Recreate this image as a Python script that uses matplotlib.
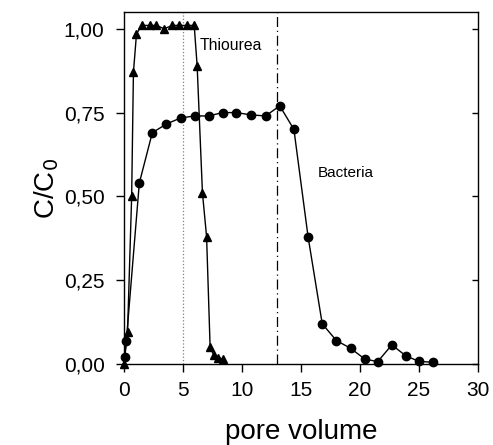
import matplotlib
matplotlib.use('Agg')
import matplotlib.pyplot as plt
from matplotlib.ticker import FuncFormatter

plt.rcParams['font.family'] = ['Liberation Sans', 'DejaVu Sans']

# thiourea breakthrough (triangles)
thiourea_pv = [0.0, 0.3, 0.65, 0.8, 1.06, 1.5, 2.2, 2.75, 3.4, 4.1, 4.7, 5.3, 5.95,
               6.2, 6.65, 7.0, 7.3, 7.6, 8.0, 8.35]
thiourea_c = [0.0, 0.095, 0.50, 0.87, 0.985, 1.01, 1.01, 1.01, 1.00, 1.01, 1.01, 1.01, 1.01,
              0.89, 0.51, 0.38, 0.05, 0.027, 0.018, 0.015]

# bacteria breakthrough (circles)
bacteria_pv = [0.05, 0.2, 1.3, 2.4, 3.6, 4.8, 6.0, 7.2, 8.35, 9.5, 10.8, 12.0, 13.2,
               14.4, 15.6, 16.8, 18.0, 19.2, 20.4, 21.5, 22.7, 23.9, 25.0, 26.2]
bacteria_c = [0.02, 0.07, 0.54, 0.69, 0.716, 0.734, 0.74, 0.74, 0.75, 0.75, 0.743, 0.74, 0.77,
              0.70, 0.38, 0.12, 0.07, 0.047, 0.015, 0.007, 0.057, 0.024, 0.008, 0.005]

thiourea_end = 5.0
bacteria_end = 13.0

fig = plt.figure(figsize=(4.93, 4.45), dpi=100)
ax = fig.add_axes([0.2515, 0.182, 0.718, 0.791])

ax.plot(thiourea_pv, thiourea_c, color='black', linewidth=1,
        marker='^', markersize=5.5, clip_on=False, zorder=3)
ax.plot(bacteria_pv, bacteria_c, color='black', linewidth=1,
        marker='o', markersize=6, clip_on=False, zorder=3)

ax.axvline(thiourea_end, color='grey', linestyle=':', linewidth=0.9)
ax.axvline(bacteria_end, color='black', linestyle=(0, (8, 3, 1, 3)), linewidth=0.9)

ax.text(6.4, 0.95, 'Thiourea', fontsize=11.3, ha='left', va='center')
ax.text(16.4, 0.57, 'Bacteria', fontsize=11, ha='left', va='center')

ax.set_xlim(0, 30)
ax.set_ylim(0, 1.05)
ax.set_xticks([0, 5, 10, 15, 20, 25, 30])
ax.set_yticks([0, 0.25, 0.5, 0.75, 1.0])
ax.yaxis.set_major_formatter(FuncFormatter(lambda v, pos: f'{v:.2f}'.replace('.', ',')))

ax.tick_params(axis='both', which='major', labelsize=15, direction='out', length=6, width=1)
ax.tick_params(axis='x', pad=6)
ax.tick_params(axis='y', pad=8)
ax.tick_params(axis='y', right=True, which='major')
for s in ax.spines.values():
    s.set_linewidth(1)
for t in ax.yaxis.get_major_ticks():
    t.tick2line.set_marker(matplotlib.lines.TICKLEFT)
    t.tick2line.set_markersize(4)

ax.set_xlabel('pore volume', fontsize=20, labelpad=14)
ax.set_ylabel('C/C$_0$', fontsize=20, labelpad=2)

fig.savefig('out.png', dpi=100)
